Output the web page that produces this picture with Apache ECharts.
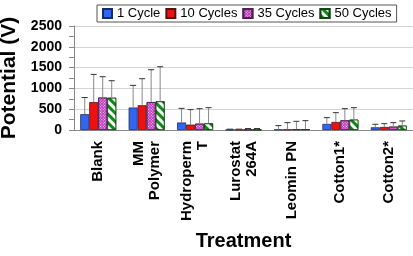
<!DOCTYPE html>
<html>
<head>
<meta charset="utf-8">
<script src="https://cdn.jsdelivr.net/npm/echarts@6/dist/echarts.min.js"></script>
<style>
html,body{margin:0;padding:0;background:#fff;}
#chart{width:413px;height:256px;}
</style>
</head>
<body>
<div id="chart"></div>
<script>
let treatments = ["Blank", "MM\nPolymer", "Hydroperm\nT", "Lurostat\n264A", "Leomin PN", "Cotton1*", "Cotton2*"];
let seriesNames = ["1 Cycle", "10 Cycles", "35 Cycles", "50 Cycles"];

// mean potential
let cycle1 = [380, 540, 180, 5, 10, 145, 65];
let cycle10 = [670, 595, 130, 5, 12, 193, 73];
let cycle35 = [780, 672, 153, 8, 18, 233, 81];
let cycle50 = [775, 690, 160, 8, 20, 250, 105];

// upper error bar
let err1 = [400, 533, 340, 15, 95, 152, 72];
let err10 = [667, 638, 360, 15, 165, 224, 80];
let err35 = [501, 777, 360, 27, 191, 280, 96];
let err50 = [410, 831, 377, 27, 205, 287, 112];

let yTicks = [0, 500, 1000, 1500, 2000, 2500];

let font = "'Liberation Sans', Arial, sans-serif";
let barW = 9;

let means = [cycle1, cycle10, cycle35, cycle50];
let errs = [err1, err10, err35, err50];

let styles = [
    {color: "#3366ee", borderColor: "#1a2a66", borderWidth: 0.8},
    {color: "#ee1111", borderColor: "#551111", borderWidth: 0.8},
    {color: "#c03cc0", borderColor: "#502050", borderWidth: 0.8,
        decal: {symbol: "rect", symbolSize: 1, dashArrayX: [1, 1], dashArrayY: [1, 1], rotation: Math.PI / 4, color: "rgba(255,255,255,0.75)"}},
    {color: "#11881a", borderColor: "#114411", borderWidth: 0.8,
        decal: {symbol: "rect", symbolSize: 1, dashArrayX: [1, 0], dashArrayY: [2.5, 2.5], rotation: Math.PI / 4, color: "rgba(255,255,255,0.95)"}}
];

let series = [];
for (let i = 0; i < 4; i++) {
    series.push({
        name: seriesNames[i],
        type: "bar",
        data: means[i],
        barWidth: barW,
        barGap: "0%",
        itemStyle: styles[i],
        emphasis: {disabled: true}
    });
}
for (let i = 0; i < 4; i++) {
    let d = [];
    for (let j = 0; j < treatments.length; j++) {
        d.push([j, means[i][j], means[i][j] + errs[i][j]]);
    }
    series.push({
        type: "custom",
        name: "err" + i,
        z: 5,
        data: d,
        renderItem: function (params, api) {
            let off = (i - 1.5) * barW;
            let p0 = api.coord([api.value(0), api.value(1)]);
            let p1 = api.coord([api.value(0), api.value(2)]);
            let x = p0[0] + off;
            return {
                type: "group",
                children: [
                    {type: "line", shape: {x1: x, y1: p0[1], x2: x, y2: p1[1]}, style: {stroke: "#888", lineWidth: 1}},
                    {type: "line", shape: {x1: x - 3, y1: p1[1], x2: x + 3, y2: p1[1]}, style: {stroke: "#333", lineWidth: 1}}
                ]
            };
        }
    });
}

let myChart = echarts.init(document.getElementById("chart"));
let option = {
    animation: false,
    legend: {
        data: seriesNames,
        icon: "rect",
        left: 97,
        top: 5,
        itemWidth: 9,
        itemHeight: 9,
        itemGap: 5,
        padding: [2, 5, 2, 5],
        borderColor: "#555",
        borderWidth: 1,
        textStyle: {fontFamily: font, fontSize: 13, color: "#000"}
    },
    grid: {left: 74, right: 0, top: 26, bottom: 126, outerBoundsMode: "none", containLabel: false},
    xAxis: {
        type: "category",
        data: treatments,
        name: "Treatment",
        nameLocation: "middle",
        nameGap: 101,
        nameTextStyle: {fontFamily: font, fontSize: 20, fontWeight: "bold", color: "#000"},
        axisLine: {lineStyle: {color: "#888"}},
        axisTick: {length: 4, lineStyle: {color: "#888"}},
        axisLabel: {
            rotate: 90, margin: 11, interval: 0,
            fontFamily: font, fontSize: 15, fontWeight: "bold", color: "#000", lineHeight: 16
        }
    },
    yAxis: {
        type: "value",
        min: yTicks[0],
        max: yTicks[yTicks.length - 1],
        interval: 500,
        name: "Potential (V)",
        nameLocation: "middle",
        nameGap: 54,
        nameTextStyle: {fontFamily: font, fontSize: 21, fontWeight: "bold", color: "#000"},
        axisLine: {show: true, lineStyle: {color: "#888"}},
        axisTick: {show: true, length: 5, lineStyle: {color: "#888"}},
        minorTick: {show: true, splitNumber: 2, length: 5, lineStyle: {color: "#888"}},
        splitLine: {lineStyle: {color: "#d4d4d4"}},
        axisLabel: {
            margin: 12, fontFamily: font, fontSize: 14, fontWeight: "bold", color: "#000",
            formatter: function (v) { return String(v); }
        }
    },
    series: series
};
myChart.setOption(option);
</script>
</body>
</html>
